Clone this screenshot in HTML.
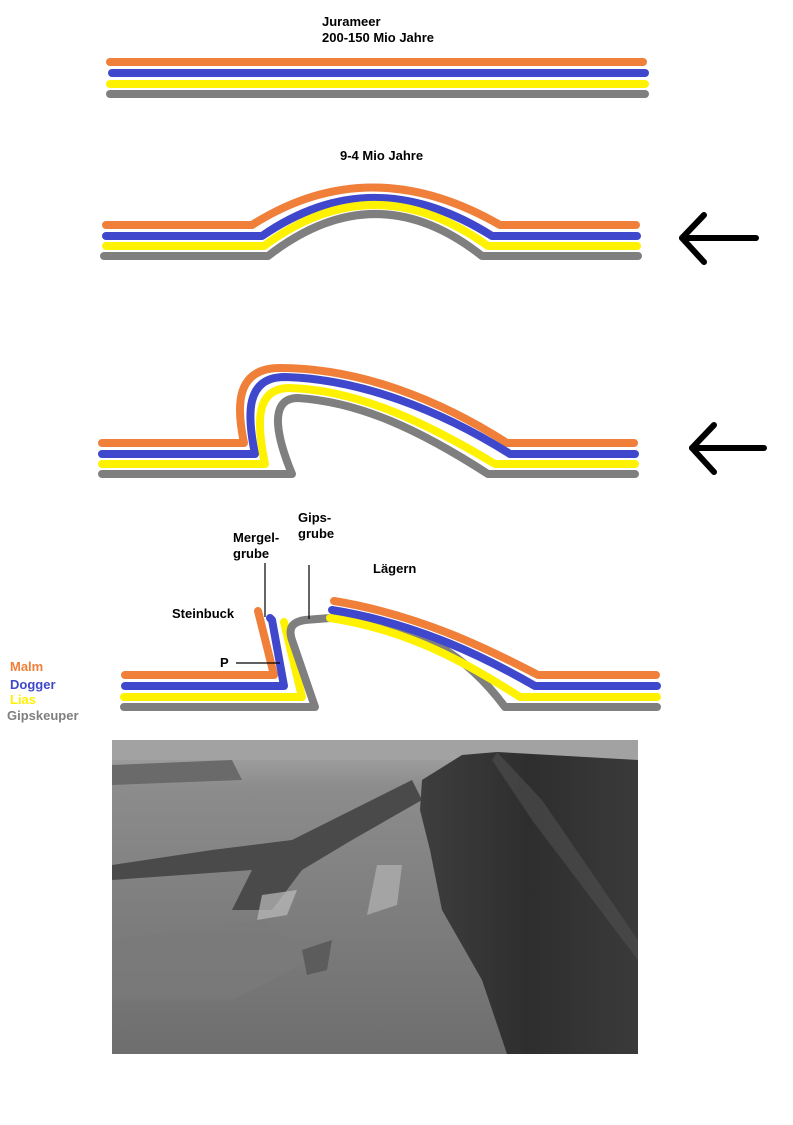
<!DOCTYPE html>
<html><head><meta charset="utf-8"><style>
html,body{margin:0;padding:0;background:#fff;}
svg{display:block;}
text{font-family:"Liberation Sans",Arial,sans-serif;font-weight:bold;font-size:13px;}
</style></head><body>
<svg width="793" height="1125" viewBox="0 0 793 1125" xmlns="http://www.w3.org/2000/svg">
<defs>
<linearGradient id="haze" x1="0" y1="0" x2="0" y2="1">
<stop offset="0" stop-color="#a8a8a8"/><stop offset="0.15" stop-color="#8c8c8c"/><stop offset="1" stop-color="#6e6e6e"/>
</linearGradient>
<linearGradient id="forest" x1="0" y1="0" x2="1" y2="0">
<stop offset="0" stop-color="#3e3e3e"/><stop offset="0.5" stop-color="#2e2e2e"/><stop offset="1" stop-color="#3a3a3a"/>
</linearGradient>
</defs>
<g fill="none" stroke-linecap="round" stroke-linejoin="round" stroke-width="8">
<line x1="110" y1="62" x2="643" y2="62" stroke="#f07f3a"/>
<line x1="112" y1="73" x2="645" y2="73" stroke="#3f48cc"/>
<line x1="110" y1="84" x2="645" y2="84" stroke="#fff200"/>
<line x1="110" y1="94" x2="645" y2="94" stroke="#7f7f7f"/>

<path d="M106 225 L252 225 Q370 150 500 225 L636 225" stroke="#f07f3a"/>
<path d="M106 236 L262 236 Q372 160 492 236 L637 236" stroke="#3f48cc"/>
<path d="M106 246 L264 246 Q374 164 488 246 L637 246" stroke="#fff200"/>
<path d="M104 256 L268 256 Q376 172 482 256 L638 256" stroke="#7f7f7f"/>

<g stroke="#000" stroke-width="6">
<line x1="682" y1="238" x2="756" y2="238"/>
<polyline points="704,215 682,238 704,262"/>
</g>

<path d="M102 443 L244 443 C236 405 236 368 280 368 C360 368 440 400 507 443 L634 443" stroke="#f07f3a"/>
<path d="M102 454 L255 454 C247 415 245 377 285 377 C360 379 440 410 510 454 L635 454" stroke="#3f48cc"/>
<path d="M102 464 L265 464 C257 425 254 388 290 388 C360 390 430 425 495 464 L635 464" stroke="#fff200"/>
<path d="M102 474 L292 474 C280 445 265 398 298 398 C360 402 420 430 488 474 L635 474" stroke="#7f7f7f"/>

<g stroke="#000" stroke-width="6">
<line x1="692" y1="448" x2="764" y2="448"/>
<polyline points="714,425 692,448 714,472"/>
</g>

<path d="M125 675 L274 675 L258 611" stroke="#f07f3a"/>
<path d="M125 686 L284 686 L272 620 L270 618" stroke="#3f48cc"/>
<path d="M124 697 L302 697 L284 622" stroke="#fff200"/>
<path d="M124 707 L315 707 L292 640 C288 628 292 622 305 620 L330 618 C420 620 470 660 505 707 L657 707" stroke="#7f7f7f"/>
<path d="M334 601 C420 615 490 650 538 675 L656 675" stroke="#f07f3a"/>
<path d="M332 610 C420 624 490 660 535 686 L657 686" stroke="#3f48cc"/>
<path d="M330 618 C410 630 470 665 520 697 L657 697" stroke="#fff200"/>
</g>
<g stroke="#000" stroke-width="1.2">
<line x1="265" y1="563" x2="265" y2="617"/>
<line x1="309" y1="565" x2="309" y2="619"/>
<line x1="236" y1="663" x2="280" y2="663"/>
</g>

<text x="322" y="26">Jurameer</text>
<text x="322" y="42">200-150 Mio Jahre</text>
<text x="340" y="160">9-4 Mio Jahre</text>
<text x="233" y="542">Mergel-</text>
<text x="233" y="558">grube</text>
<text x="298" y="522">Gips-</text>
<text x="298" y="538">grube</text>
<text x="373" y="573">Lägern</text>
<text x="172" y="618">Steinbuck</text>
<text x="220" y="667">P</text>
<text x="10" y="671" fill="#f07f3a">Malm</text>
<text x="10" y="689" fill="#3f48cc">Dogger</text>
<text x="10" y="704" fill="#fff200">Lias</text>
<text x="7" y="720" fill="#7f7f7f">Gipskeuper</text>

<g transform="translate(112,740)">
<rect width="526" height="314" fill="url(#haze)"/>
<rect width="526" height="20" fill="#a2a2a2"/>
<polygon points="0,25 120,20 130,40 0,45" fill="#6a6a6a"/>
<polygon points="100,110 180,100 240,70 300,40 310,60 240,100 190,130 160,170 120,170 140,130 0,140 0,125" fill="#4a4a4a"/>
<polygon points="150,155 185,150 175,175 145,180" fill="#bcbcbc" opacity="0.7"/>
<polygon points="265,125 290,125 285,165 255,175" fill="#bcbcbc" opacity="0.6"/>
<polygon points="310,40 350,15 385,12 526,20 526,314 395,314 370,240 330,170 318,110 308,70" fill="url(#forest)"/>
<polygon points="385,12 430,60 526,200 526,220 420,80 380,20" fill="#505050" opacity="0.6"/>
<polygon points="0,200 150,180 200,220 120,260 0,260" fill="#7a7a7a" opacity="0.7"/>
<polygon points="190,210 220,200 215,230 195,235" fill="#555" opacity="0.8"/>
</g>
</svg>
</body></html>
